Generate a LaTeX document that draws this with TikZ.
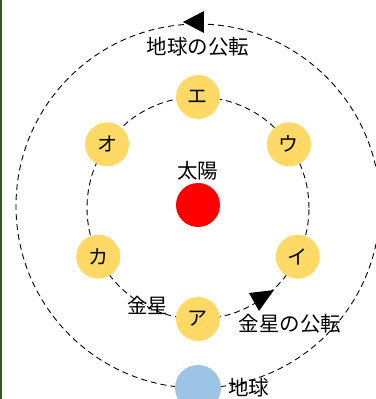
\documentclass[tikz,border=0pt]{standalone}
\usepackage{fontspec}
\setmainfont{Noto Sans CJK JP}
\usetikzlibrary{positioning}
\definecolor{venus}{RGB}{255,217,102}
\definecolor{earthblue}{RGB}{157,195,230}
\definecolor{edgegreen}{RGB}{56,87,35}

\begin{document}
\begin{tikzpicture}[x=1pt, y=1pt,
	orbit/.style = {draw, dash pattern=on 6pt off 4pt, line width=0.9pt},
	body/.style = {circle, minimum size=44pt, inner sep=0pt},
	planet/.style = {body, fill=venus, font=\fontsize{20}{21}\selectfont},
	lbl/.style = {font=\fontsize{20.5}{23}\selectfont, inner sep=1pt}]
	\useasboundingbox (-198,-192) rectangle (177,207);
	\fill[edgegreen] (-198,-192) rectangle (-196,207);
	% orbits
	\coordinate (ec) at (0,1);
	\coordinate (vc) at (0,-1);
	\draw[orbit] (ec) circle (182);
	\draw[orbit] (vc) circle (111);
	\fill (-15,185) -- (6,196) -- (6,174) -- cycle;
	\fill (51,-86) -- (76,-83) -- (61,-104) -- cycle;
	% sun and earth
	\node[body, fill=red] (sun) at (0,2) {};
	\node[body, fill=earthblue, minimum size=46pt] (earth) at (0,-181) {};
	% venus positions
	\node[planet] (a) at ([shift={(-90:111)}]vc) {ア};
	\node[planet] (i) at ([shift={(-26:111)}]vc) {イ};
	\node[planet] (u) at ([shift={(35:111)}]vc) {ウ};
	\node[planet] (e) at ([shift={(90:111)}]vc) {エ};
	\node[planet] (o) at ([shift={(145:111)}]vc) {オ};
	\node[planet] (ka) at ([shift={(206:111)}]vc) {カ};
	% labels
	\node[lbl] (sunlbl) at (0,36) {太陽};
	\node[lbl, right=6pt of earth] (earthlbl) {地球};
	\node[lbl] (venuslbl) at (-50,-98) {金星};
	\node[lbl] (eorbitlbl) at (0,160) {地球の公転};
	\node[lbl] (vorbitlbl) at (92,-117) {金星の公転};
\end{tikzpicture}
\end{document}
